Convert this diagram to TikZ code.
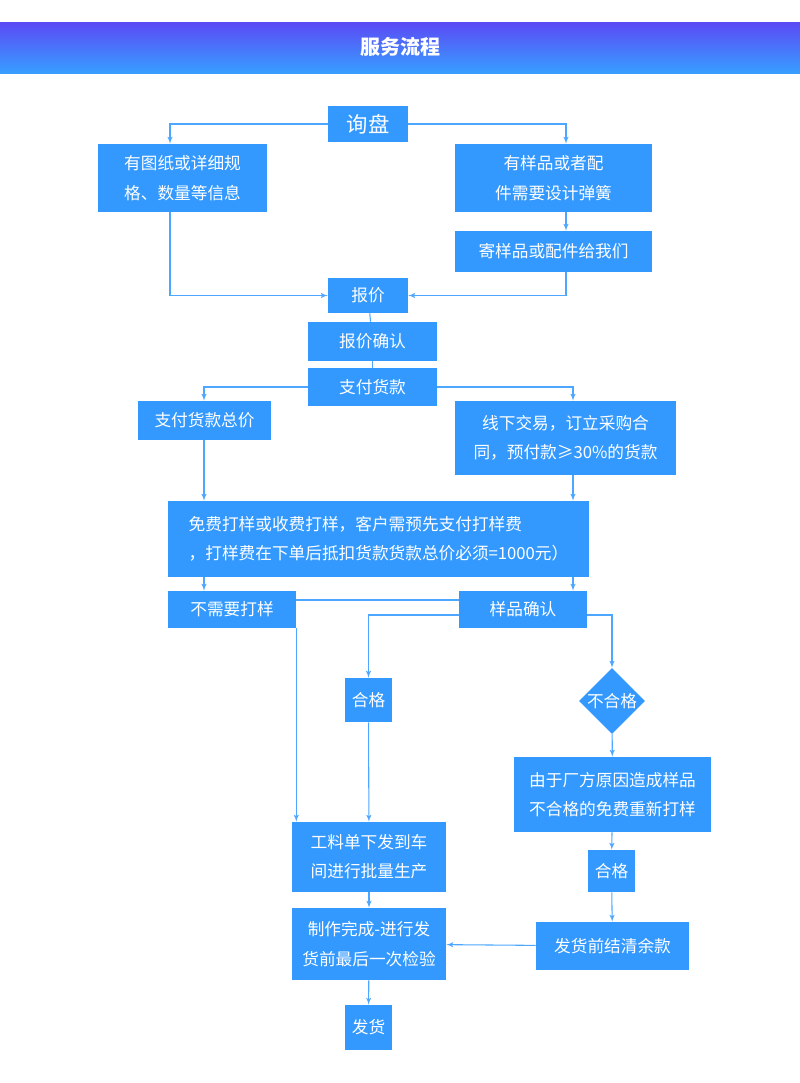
\documentclass[tikz,border=0pt]{standalone}
\usepackage{fontspec}
\setmainfont{Noto Sans CJK SC}
\usetikzlibrary{arrows,shapes.geometric}
\begin{document}
\begin{tikzpicture}[>=latex',x=0.75pt,y=-0.75pt]

\definecolor{boxblue}{RGB}{51, 153, 255}
\definecolor{lineblue}{RGB}{77, 166, 255}
\definecolor{bandtop}{RGB}{92, 74, 245}
\definecolor{bandbot}{RGB}{55, 158, 255}

\useasboundingbox (0,0) rectangle (800,1083);

% Title band
\shade[top color=bandtop, bottom color=bandbot] (0,22) rectangle (800,73);
\node[text=white, font=\bfseries\fontsize{15}{18}\selectfont] (title) at (400,47) {服务流程};

\tikzset{
    box/.style={
        fill=boxblue, rectangle, inner sep=2pt,
        text=white, font=\fontsize{12.5}{22}\selectfont, align=center
    },
    flow/.style={
        draw=lineblue, thick, ->
    },
    link/.style={
        draw=lineblue, thick
    }
}

% Boxes
\node[box, minimum width=80*.75pt, minimum height=36*.75pt, font=\fontsize{16}{20}\selectfont] (ask) at (368,124) {询盘};
\node[box, minimum width=169*.75pt, minimum height=68*.75pt] (drawing) at (182.5,178) {有图纸或详细规\\格、数量等信息};
\node[box, minimum width=197*.75pt, minimum height=68*.75pt] (sample) at (553.5,178) {有样品或者配\\件需要设计弹簧};
\node[box, minimum width=197*.75pt, minimum height=41*.75pt] (send) at (553.5,251.5) {寄样品或配件给我们};
\node[box, minimum width=80*.75pt, minimum height=35*.75pt] (quote) at (368,295.5) {报价};
\node[box, minimum width=129*.75pt, minimum height=39*.75pt] (confirm) at (372.5,341.5) {报价确认};
\node[box, minimum width=129*.75pt, minimum height=38*.75pt] (pay) at (372.5,387) {支付货款};
\node[box, minimum width=133*.75pt, minimum height=39*.75pt] (total) at (204.5,420.5) {支付货款总价};
\node[box, minimum width=221*.75pt, minimum height=74*.75pt] (offline) at (565.5,438) {线下交易，订立采购合\\同，预付款≥30\%的货款};
\node[box, minimum width=421*.75pt, minimum height=76*.75pt, align=left] (proof) at (378.5,539) {免费打样或收费打样，客户需预先支付打样费\\，打样费在下单后抵扣货款货款总价必须=1000元）};
\node[box, minimum width=128*.75pt, minimum height=37*.75pt] (noproof) at (232,609.5) {不需要打样};
\node[box, minimum width=128*.75pt, minimum height=37*.75pt] (check) at (523,609.5) {样品确认};
\node[box, minimum width=47*.75pt, minimum height=44*.75pt] (pass) at (368.5,700) {合格};
\node[box, diamond, minimum width=66*.75pt, minimum height=66*.75pt, inner sep=0pt] (fail) at (612,701) {不合格};
\node[box, minimum width=197*.75pt, minimum height=75*.75pt] (redo) at (612.5,794.5) {由于厂方原因造成样品\\不合格的免费重新打样};
\node[box, minimum width=47*.75pt, minimum height=42*.75pt] (passagain) at (611.5,871) {合格};
\node[box, minimum width=153*.75pt, minimum height=48*.75pt] (settle) at (612.5,946) {发货前结清余款};
\node[box, minimum width=154*.75pt, minimum height=70*.75pt] (produce) at (369,857) {工料单下发到车\\间进行批量生产};
\node[box, minimum width=154*.75pt, minimum height=72*.75pt] (inspect) at (369,944) {制作完成-进行发\\货前最后一次检验};
\node[box, minimum width=47*.75pt, minimum height=45*.75pt] (ship) at (368.5,1027.5) {发货};

% Connectors
\draw[flow] (ask.west) -| (drawing.north -| 170,0);
\draw[flow] (ask.east) -| (sample.north -| 566,0);
\draw[flow] (sample.south -| 566,0) -- (send.north -| 566,0);
\draw[flow] (drawing.south -| 170,0) |- (quote.west);
\draw[flow] (send.south -| 566,0) |- (quote.east);
\draw[link] (quote) -- (confirm);
\draw[link] (confirm) -- (pay);
\draw[flow] (pay.west) -| (total.north -| 204,0);
\draw[flow] (pay.east) -| (offline.north -| 573,0);
\draw[flow] (total.south -| 204,0) -- (proof.north -| 204,0);
\draw[flow] (offline.south -| 573,0) -- (proof.north -| 573,0);
\draw[flow] (proof.south -| 204,0) -- (noproof.north -| 204,0);
\draw[flow] (proof.south -| 573,0) -- (check.north -| 573,0);
\draw[link] (noproof.east |- 0,600) -- (check.west |- 0,600);
\draw[flow] (noproof.south east) -- (produce.north -| noproof.east);
\draw[flow] (check.west |- 0,615) -| (pass.north);
\draw[flow] (check.east |- 0,615) -| (fail.north);
\draw[flow] (pass) -- (produce);
\draw[flow] (fail) -- (redo);
\draw[flow] (redo) -- (passagain);
\draw[flow] (passagain) -- (settle);
\draw[flow] (settle) -- (inspect);
\draw[flow] (produce) -- (inspect);
\draw[flow] (inspect) -- (ship);

\end{tikzpicture}
\end{document}
